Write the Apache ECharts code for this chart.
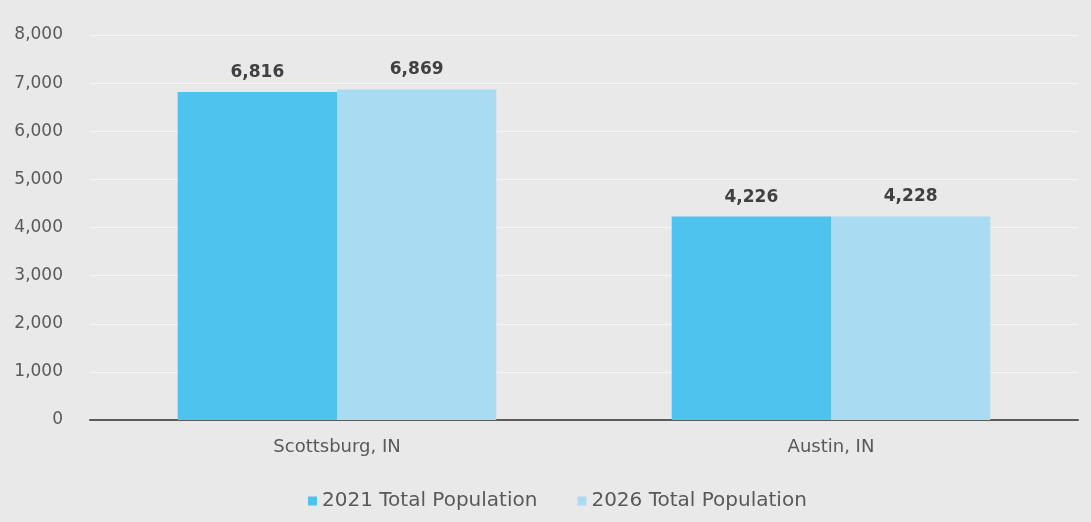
<!DOCTYPE html>
<html><head><meta charset="utf-8">
<script src="https://cdn.jsdelivr.net/npm/echarts@6/dist/echarts.min.js"></script>
<style>html,body{margin:0;padding:0;background:#e9e9ea;}#c{width:1091px;height:522px;}</style>
</head><body><div id="c"></div>
<script>
const categories = ['Scottsburg, IN', 'Austin, IN'];
const seriesNames = ['2021 Total Population', '2026 Total Population'];
const pop2021 = [6816, 4226];
const pop2026 = [6869, 4228];
const chart = echarts.init(document.getElementById('c'));
const fontFamily = '"DejaVu Sans", sans-serif';
const labelStyle = {show: true, position: 'top', distance: 11, color: '#404040', fontSize: 17, fontWeight: 'bold', fontFamily: fontFamily,
  formatter: p => p.value.toLocaleString('en-US')};
chart.setOption({
  backgroundColor: '#e9e9ea',
  animation: false,
  grid: {left: 90, right: 13, top: 35, bottom: 102},
  legend: {bottom: 6, left: 303, itemWidth: 9, itemHeight: 9, itemGap: 40, icon: 'rect',
    textStyle: {color: '#595959', fontSize: 20, fontFamily: fontFamily}},
  xAxis: {type: 'category', data: categories,
    axisLine: {lineStyle: {color: '#5a5a5a', width: 2}}, axisTick: {show: false},
    axisLabel: {color: '#595959', fontSize: 18, fontFamily: fontFamily, margin: 18}},
  yAxis: {type: 'value', min: 0, max: 8000, interval: 1000,
    axisLine: {show: false}, axisTick: {show: false},
    splitLine: {lineStyle: {color: '#f6f6f6', width: 1}},
    axisLabel: {color: '#595959', fontSize: 17, fontFamily: fontFamily, margin: 27,
      formatter: v => v.toLocaleString('en-US')}},
  series: [
    {name: seriesNames[0], type: 'bar', data: pop2021, barGap: '0%', barCategoryGap: '35.5%', itemStyle: {color: '#4dc3ee'}, label: labelStyle},
    {name: seriesNames[1], type: 'bar', data: pop2026, itemStyle: {color: '#a9dcf3'}, label: labelStyle}
  ]
});
</script></body></html>
